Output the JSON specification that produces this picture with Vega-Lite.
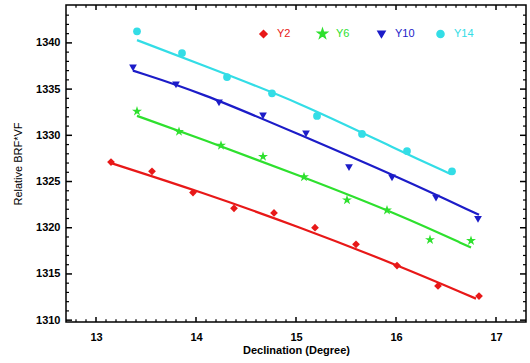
{
  "$schema": "https://vega.github.io/schema/vega-lite/v6.json",
  "autosize": {"type": "none"},
  "padding": {"left": 66, "top": 5, "right": 4, "bottom": 41},
  "width": 460,
  "height": 317,
  "background": "white",
  "config": {
    "font": "Liberation Sans",
    "view": {"stroke": "black", "strokeWidth": 1.5},
    "axis": {"domain": false, "ticks": false, "grid": false, "labelColor": "black", "titleColor": "black", "labelFont": "Liberation Sans", "titleFont": "Liberation Sans"}
  },
  "datasets": {
    "pts": [
      {"series": "Y2", "dec": 13.15, "val": 1327.1},
      {"series": "Y2", "dec": 13.56, "val": 1326.1},
      {"series": "Y2", "dec": 13.97, "val": 1323.8},
      {"series": "Y2", "dec": 14.38, "val": 1322.1},
      {"series": "Y2", "dec": 14.78, "val": 1321.6},
      {"series": "Y2", "dec": 15.19, "val": 1320.0},
      {"series": "Y2", "dec": 15.6, "val": 1318.2},
      {"series": "Y2", "dec": 16.01, "val": 1315.9},
      {"series": "Y2", "dec": 16.42, "val": 1313.7},
      {"series": "Y2", "dec": 16.83, "val": 1312.6},
      {"series": "Y6", "dec": 13.41, "val": 1332.6},
      {"series": "Y6", "dec": 13.83, "val": 1330.4},
      {"series": "Y6", "dec": 14.25, "val": 1328.9},
      {"series": "Y6", "dec": 14.67, "val": 1327.7},
      {"series": "Y6", "dec": 15.08, "val": 1325.5},
      {"series": "Y6", "dec": 15.51, "val": 1323.0},
      {"series": "Y6", "dec": 15.91, "val": 1321.9},
      {"series": "Y6", "dec": 16.34, "val": 1318.7},
      {"series": "Y6", "dec": 16.75, "val": 1318.6},
      {"series": "Y10", "dec": 13.37, "val": 1337.3},
      {"series": "Y10", "dec": 13.8, "val": 1335.45},
      {"series": "Y10", "dec": 14.23, "val": 1333.5},
      {"series": "Y10", "dec": 14.67, "val": 1332.1},
      {"series": "Y10", "dec": 15.1, "val": 1330.15},
      {"series": "Y10", "dec": 15.53, "val": 1326.5},
      {"series": "Y10", "dec": 15.96, "val": 1325.4},
      {"series": "Y10", "dec": 16.4, "val": 1323.2},
      {"series": "Y10", "dec": 16.82, "val": 1320.9},
      {"series": "Y14", "dec": 13.41, "val": 1341.25},
      {"series": "Y14", "dec": 13.86, "val": 1338.9},
      {"series": "Y14", "dec": 14.31, "val": 1336.3},
      {"series": "Y14", "dec": 14.76, "val": 1334.55},
      {"series": "Y14", "dec": 15.21, "val": 1332.1},
      {"series": "Y14", "dec": 15.66, "val": 1330.15},
      {"series": "Y14", "dec": 16.11, "val": 1328.3},
      {"series": "Y14", "dec": 16.56, "val": 1326.1}
    ],
    "fit": [
      {"series": "Y2", "dec": 13.16, "val": 1326.96},
      {"series": "Y2", "dec": 14.04, "val": 1323.9},
      {"series": "Y2", "dec": 15.03, "val": 1320.1},
      {"series": "Y2", "dec": 16.04, "val": 1315.85},
      {"series": "Y2", "dec": 16.8, "val": 1312.33},
      {"series": "Y6", "dec": 13.41, "val": 1332.1},
      {"series": "Y6", "dec": 14.04, "val": 1329.68},
      {"series": "Y6", "dec": 15.03, "val": 1325.67},
      {"series": "Y6", "dec": 16.04, "val": 1321.4},
      {"series": "Y6", "dec": 16.75, "val": 1317.85},
      {"series": "Y10", "dec": 13.37, "val": 1337.0},
      {"series": "Y10", "dec": 14.04, "val": 1334.67},
      {"series": "Y10", "dec": 15.03, "val": 1330.1},
      {"series": "Y10", "dec": 16.04, "val": 1325.4},
      {"series": "Y10", "dec": 16.83, "val": 1321.4},
      {"series": "Y14", "dec": 13.41, "val": 1340.3},
      {"series": "Y14", "dec": 14.04, "val": 1337.7},
      {"series": "Y14", "dec": 15.03, "val": 1333.6},
      {"series": "Y14", "dec": 16.04, "val": 1328.3},
      {"series": "Y14", "dec": 16.55, "val": 1325.8}
    ],
    "xt": [
      {"v": 13, "k": "major"}, {"v": 14, "k": "major"}, {"v": 15, "k": "major"}, {"v": 16, "k": "major"}, {"v": 17, "k": "major"},
      {"v": 12.8, "k": "minor"}, {"v": 12.9, "k": "minor"}, {"v": 13.1, "k": "minor"}, {"v": 13.2, "k": "minor"}, {"v": 13.3, "k": "minor"}, {"v": 13.4, "k": "minor"}, {"v": 13.5, "k": "minor"}, {"v": 13.6, "k": "minor"}, {"v": 13.7, "k": "minor"}, {"v": 13.8, "k": "minor"}, {"v": 13.9, "k": "minor"},
      {"v": 14.1, "k": "minor"}, {"v": 14.2, "k": "minor"}, {"v": 14.3, "k": "minor"}, {"v": 14.4, "k": "minor"}, {"v": 14.5, "k": "minor"}, {"v": 14.6, "k": "minor"}, {"v": 14.7, "k": "minor"}, {"v": 14.8, "k": "minor"}, {"v": 14.9, "k": "minor"},
      {"v": 15.1, "k": "minor"}, {"v": 15.2, "k": "minor"}, {"v": 15.3, "k": "minor"}, {"v": 15.4, "k": "minor"}, {"v": 15.5, "k": "minor"}, {"v": 15.6, "k": "minor"}, {"v": 15.7, "k": "minor"}, {"v": 15.8, "k": "minor"}, {"v": 15.9, "k": "minor"},
      {"v": 16.1, "k": "minor"}, {"v": 16.2, "k": "minor"}, {"v": 16.3, "k": "minor"}, {"v": 16.4, "k": "minor"}, {"v": 16.5, "k": "minor"}, {"v": 16.6, "k": "minor"}, {"v": 16.7, "k": "minor"}, {"v": 16.8, "k": "minor"}, {"v": 16.9, "k": "minor"},
      {"v": 17.1, "k": "minor"}, {"v": 17.2, "k": "minor"}
    ],
    "yt": [
      {"v": 1310, "k": "major"}, {"v": 1315, "k": "major"}, {"v": 1320, "k": "major"}, {"v": 1325, "k": "major"}, {"v": 1330, "k": "major"}, {"v": 1335, "k": "major"}, {"v": 1340, "k": "major"},
      {"v": 1311, "k": "minor"}, {"v": 1312, "k": "minor"}, {"v": 1313, "k": "minor"}, {"v": 1314, "k": "minor"},
      {"v": 1316, "k": "minor"}, {"v": 1317, "k": "minor"}, {"v": 1318, "k": "minor"}, {"v": 1319, "k": "minor"},
      {"v": 1321, "k": "minor"}, {"v": 1322, "k": "minor"}, {"v": 1323, "k": "minor"}, {"v": 1324, "k": "minor"},
      {"v": 1326, "k": "minor"}, {"v": 1327, "k": "minor"}, {"v": 1328, "k": "minor"}, {"v": 1329, "k": "minor"},
      {"v": 1331, "k": "minor"}, {"v": 1332, "k": "minor"}, {"v": 1333, "k": "minor"}, {"v": 1334, "k": "minor"},
      {"v": 1336, "k": "minor"}, {"v": 1337, "k": "minor"}, {"v": 1338, "k": "minor"}, {"v": 1339, "k": "minor"},
      {"v": 1341, "k": "minor"}, {"v": 1342, "k": "minor"}, {"v": 1343, "k": "minor"}
    ]
  },
  "layer": [
    {
      "data": {"name": "fit"},
      "mark": {"type": "line", "interpolate": "basis", "strokeWidth": 2.2},
      "encoding": {
        "x": {"field": "dec", "type": "quantitative", "scale": {"domain": [12.7, 17.3], "nice": false, "zero": false},
              "axis": {"orient": "bottom", "values": [13, 14, 15, 16, 17], "format": "d", "labelPadding": 9, "labelFontSize": 11, "labelFontWeight": "bold", "title": "Declination (Degree)", "titleFontSize": 11, "titleFontWeight": "bold", "titlePadding": 2}},
        "y": {"field": "val", "type": "quantitative", "scale": {"domain": [1309.8, 1344.1], "nice": false, "zero": false},
              "axis": {"orient": "left", "values": [1310, 1315, 1320, 1325, 1330, 1335, 1340], "format": "d", "labelPadding": 6, "labelFontSize": 11, "labelFontWeight": "bold", "title": "Relative BRF*VF", "titleFontSize": 11, "titleFontWeight": "normal", "titlePadding": 12}},
        "color": {"field": "series", "type": "nominal", "title": null, "scale": {"domain": ["Y2", "Y6", "Y10", "Y14"], "range": ["#e81818", "#2ee02e", "#1c1cc8", "#33dde6"]}}
      }
    },
    {
      "data": {"name": "pts"},
      "mark": {"type": "point", "filled": true, "opacity": 1, "size": 60},
      "encoding": {
        "x": {"field": "dec", "type": "quantitative"},
        "y": {"field": "val", "type": "quantitative"},
        "color": {"field": "series", "type": "nominal", "title": null,
                  "legend": {"orient": "none", "legendX": 192, "legendY": 23, "direction": "horizontal", "padding": 0, "gridAlign": "all", "columnPadding": 17, "labelFontSize": 11, "labelFont": "Liberation Sans", "labelOffset": 8, "symbolSize": 50,
                             "encoding": {"labels": {"fill": {"value": {"expr": "scale('color', datum.value)"}}}}}},
        "shape": {"field": "series", "type": "nominal", "title": null,
                  "scale": {"domain": ["Y2", "Y6", "Y10", "Y14"], "range": ["diamond", "M0,-1.35L0.303,-0.417L1.284,-0.417L0.49,0.159L0.794,1.092L0,0.516L-0.794,1.092L-0.49,0.159L-1.284,-0.417L-0.303,-0.417Z", "triangle-down", "circle"]}}
      }
    },
    {
      "data": {"name": "xt"},
      "transform": [{"filter": "datum.k == 'major'"}],
      "mark": {"type": "rule", "color": "black", "strokeWidth": 1.5},
      "encoding": {"x": {"field": "v", "type": "quantitative"}, "y": {"datum": 1309.8}, "y2": {"datum": 1310.35}}
    },
    {
      "data": {"name": "xt"},
      "transform": [{"filter": "datum.k == 'major'"}],
      "mark": {"type": "rule", "color": "black", "strokeWidth": 1.5},
      "encoding": {"x": {"field": "v", "type": "quantitative"}, "y": {"datum": 1344.1}, "y2": {"datum": 1343.55}}
    },
    {
      "data": {"name": "xt"},
      "transform": [{"filter": "datum.k == 'minor'"}],
      "mark": {"type": "rule", "color": "black", "strokeWidth": 1.2},
      "encoding": {"x": {"field": "v", "type": "quantitative"}, "y": {"datum": 1309.8}, "y2": {"datum": 1310.1}}
    },
    {
      "data": {"name": "xt"},
      "transform": [{"filter": "datum.k == 'minor'"}],
      "mark": {"type": "rule", "color": "black", "strokeWidth": 1.2},
      "encoding": {"x": {"field": "v", "type": "quantitative"}, "y": {"datum": 1344.1}, "y2": {"datum": 1343.8}}
    },
    {
      "data": {"name": "yt"},
      "transform": [{"filter": "datum.k == 'major'"}],
      "mark": {"type": "rule", "color": "black", "strokeWidth": 1.5},
      "encoding": {"y": {"field": "v", "type": "quantitative"}, "x": {"datum": 12.7}, "x2": {"datum": 12.76}}
    },
    {
      "data": {"name": "yt"},
      "transform": [{"filter": "datum.k == 'major'"}],
      "mark": {"type": "rule", "color": "black", "strokeWidth": 1.5},
      "encoding": {"y": {"field": "v", "type": "quantitative"}, "x": {"datum": 17.3}, "x2": {"datum": 17.24}}
    },
    {
      "data": {"name": "yt"},
      "transform": [{"filter": "datum.k == 'minor'"}],
      "mark": {"type": "rule", "color": "black", "strokeWidth": 1.2},
      "encoding": {"y": {"field": "v", "type": "quantitative"}, "x": {"datum": 12.7}, "x2": {"datum": 12.73}}
    },
    {
      "data": {"name": "yt"},
      "transform": [{"filter": "datum.k == 'minor'"}],
      "mark": {"type": "rule", "color": "black", "strokeWidth": 1.2},
      "encoding": {"y": {"field": "v", "type": "quantitative"}, "x": {"datum": 17.3}, "x2": {"datum": 17.27}}
    }
  ]
}
